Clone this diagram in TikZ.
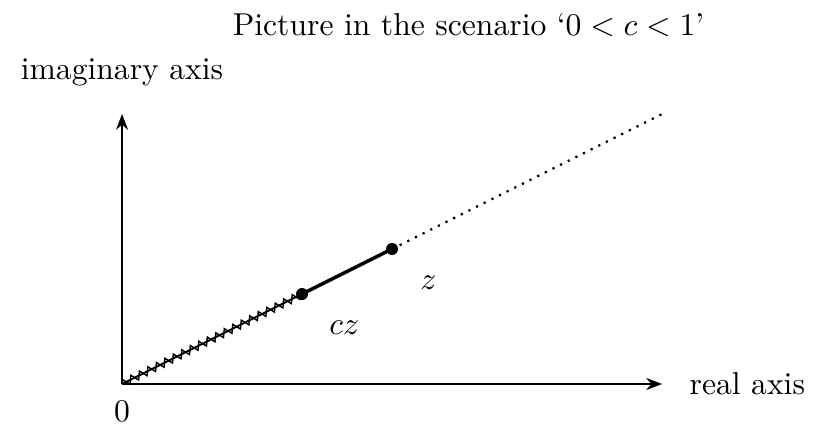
\documentclass[tikz,border=0pt]{standalone}
\usetikzlibrary{arrows.meta,decorations.pathmorphing}
\begin{document}
\begin{tikzpicture}[
  axis/.style={-{Stealth[length=5pt,width=3.8pt]}, line width=0.45pt},
  pt/.style={circle, fill=black, inner sep=0pt, minimum size=3.8pt},
  lbl/.style={inner sep=0pt},
  zz/.style={decorate, decoration={zigzag, amplitude=1.2pt, segment length=3pt}, line width=0.45pt}
]
\useasboundingbox (-1.356,-0.544) rectangle (7.711,4.267);
\coordinate (O) at (0,0);
\coordinate (X) at (6,0);
\coordinate (Y) at (0,3);
\coordinate (E) at (6,3);
\node[pt] (cz) at (2,1) {};
\node[pt] (z) at (3,1.5) {};
\draw[axis] (O) -- (X);
\draw[axis] (O) -- (Y);
\draw[line width=0.6pt] (O) -- (cz.center);
\draw[zz] (O) -- (cz.center);
\draw[line width=1.1pt] (cz.center) -- (z.center);
\draw[dotted, line width=0.7pt] (z.center) -- (E);
\node[lbl] (zl) at (3.405,1.13) {$z$};
\node[lbl] (czl) at (2.47,0.63) {$cz$};
\node[lbl] (zero) at (0,-0.3) {$0$};
\node[lbl, anchor=west] (re) at (6.3,0) {real axis};
\node[lbl] (im) at (0,3.46) {imaginary axis};
\node[lbl] (title) at (3.85,3.99) {Picture in the scenario `$0<c<1$'};
\end{tikzpicture}
\end{document}
